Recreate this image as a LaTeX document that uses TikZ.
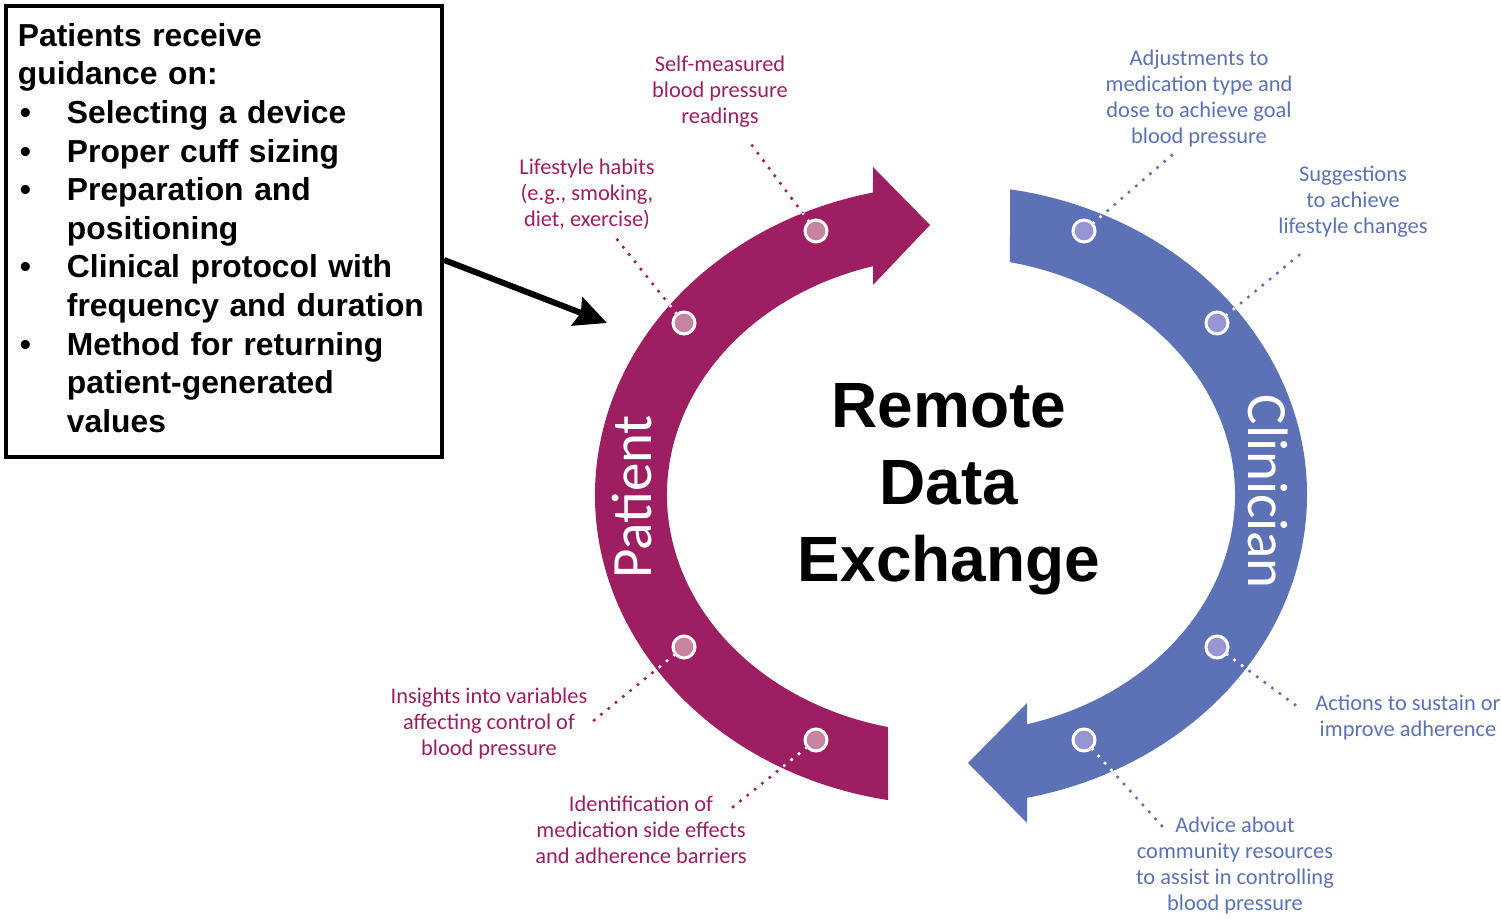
\documentclass[tikz,border=0pt]{standalone}
\usepackage{fontspec}
\setmainfont{Liberation Sans}
\newfontfamily\notefont{Carlito}
\usetikzlibrary{positioning,calc,arrows.meta}
\tikzset{>=stealth}
\definecolor{patientred}{RGB}{158,30,98}
\definecolor{clinicianblue}{RGB}{92,113,182}
\definecolor{patientpink}{RGB}{199,132,160}
\definecolor{clinicianlilac}{RGB}{152,150,210}
\newcommand\patientband{($(ring)+(259.81:356 and 310)$) arc[x radius=356,y radius=310,start angle=259.81,end angle=102.66] -- (873,752) -- (930,694) -- (873,634) -- ($(ring)+(105.94:284 and 238)$) arc[x radius=284,y radius=238,start angle=105.94,end angle=257.18] -- cycle}
\newcommand\clinicianband{($(ring)+(80.46:356 and 310)$) arc[x radius=356,y radius=310,start angle=80.46,end angle=-77.67] -- (1027,96) -- (968,156) -- (1027,216) -- ($(ring)+(-74.48:284 and 238)$) arc[x radius=284,y radius=238,start angle=-74.48,end angle=78.01] -- cycle}
\tikzset{
  patientdot/.style={circle,fill=patientpink,draw=white,line width=1.5pt,minimum size=11pt,inner sep=0pt},
  cliniciandot/.style={circle,fill=clinicianlilac,draw=white,line width=1.5pt,minimum size=11pt,inner sep=0pt},
  leader/.style={line width=1.8pt,dash pattern=on 0pt off 4.7pt,line cap=round},
  patientnote/.style={font=\notefont\fontsize{11.2}{13}\selectfont,text=patientred,align=center},
  cliniciannote/.style={font=\notefont\fontsize{11.2}{13}\selectfont,text=clinicianblue,align=center},
  bandtext/.style={font=\notefont\fontsize{28.5}{28.5}\selectfont,text=white},
  guidebox/.style={draw,line width=2pt,text width=206pt,minimum height=225.5pt,inner xsep=6pt,anchor=north west,font=\bfseries\fontsize{15.9}{19.3}\selectfont},
  bigarrow/.style={line width=3pt,-{Stealth[length=16pt,width=15pt,inset=2pt]}}
}

\begin{document}
\begin{tikzpicture}[x=0.5pt,y=0.5pt]
\useasboundingbox (0,0) rectangle (1501,919);
\coordinate (ring) at (951,424);
\fill[patientred] \patientband;
\fill[clinicianblue] \clinicianband;
\node[bandtext,rotate=90] (patient) at (632,422) {Patient};
\node[bandtext,rotate=-90] (clinician) at (1268,427) {Clinician};
\node[font=\bfseries\fontsize{32}{38.5}\selectfont,align=center] (exchange) at (949,430) {Remote\\Data\\Exchange};

\node[patientdot] (pd1) at (816,688) {};
\node[patientdot] (pd2) at (684,596) {};
\node[patientdot] (pd3) at (684,272) {};
\node[patientdot] (pd4) at (816,179) {};
\node[cliniciandot] (cd1) at (1084,688) {};
\node[cliniciandot] (cd2) at (1217,596) {};
\node[cliniciandot] (cd3) at (1217,272) {};
\node[cliniciandot] (cd4) at (1084,179) {};

\coordinate (pe1) at (748,779);
\coordinate (pe2) at (612,686);
\coordinate (pe3) at (592,197);
\coordinate (pe4) at (733,112);
\coordinate (ce1) at (1172,764);
\coordinate (ce2) at (1304,668);
\coordinate (ce3) at (1298,212);
\coordinate (ce4) at (1162,93);

\draw[leader,patientred] (pd1) -- (pe1);
\draw[leader,patientred] (pd2) -- (pe2);
\draw[leader,patientred] (pd3) -- (pe3);
\draw[leader,patientred] (pd4) -- (pe4);
\draw[leader,clinicianblue] (cd1) -- (ce1);
\draw[leader,clinicianblue] (cd2) -- (ce2);
\draw[leader,clinicianblue] (cd3) -- (ce3);
\draw[leader,clinicianblue] (cd4) -- (ce4);
\begin{scope}
\clip \patientband;
\draw[leader,white] (pd1) -- (pe1);
\draw[leader,white] (pd2) -- (pe2);
\draw[leader,white] (pd3) -- (pe3);
\draw[leader,white] (pd4) -- (pe4);
\end{scope}
\begin{scope}
\clip \clinicianband;
\draw[leader,white] (cd1) -- (ce1);
\draw[leader,white] (cd2) -- (ce2);
\draw[leader,white] (cd3) -- (ce3);
\draw[leader,white] (cd4) -- (ce4);
\end{scope}

\node[patientnote] (pl1) at (720,827) {Self-measured\\blood pressure\\readings};
\node[patientnote] (pl2) at (587,725) {Lifestyle habits\\(e.g., smoking,\\diet, exercise)};
\node[patientnote] (pl3) at (489,195) {Insights into variables\\affecting control of\\blood pressure};
\node[patientnote] (pl4) at (641,89) {Identification of\\medication side effects\\and adherence barriers};
\node[cliniciannote] (cl1) at (1199,820) {Adjustments to\\medication type and\\dose to achieve goal\\blood pressure};
\node[cliniciannote] (cl2) at (1353,717) {Suggestions\\to achieve\\lifestyle changes};
\node[cliniciannote] (cl3) at (1408,201) {Actions to sustain or\\improve adherence};
\node[cliniciannote] (cl4) at (1235,53) {Advice about\\community resources\\to assist in controlling\\blood pressure};

\node[guidebox] (guide) at (4,915) {\noindent
\begin{tabular}{@{}p{24.5pt}@{}l@{}}
\multicolumn{2}{@{}l@{}}{Patients receive}\\
\multicolumn{2}{@{}l@{}}{guidance on:}\\
\hspace{1pt}\textbullet & Selecting a device\\
\hspace{1pt}\textbullet & Proper cuff sizing\\
\hspace{1pt}\textbullet & Preparation and\\
 & positioning\\
\hspace{1pt}\textbullet & Clinical protocol with\\
 & frequency and duration\\
\hspace{1pt}\textbullet & Method for returning\\
 & patient-generated\\
 & values
\end{tabular}};
\coordinate (guidetip) at (607,596);
\draw[bigarrow] ($(guide.east)+(0,-28.5)$) -- (guidetip);
\end{tikzpicture}
\end{document}
